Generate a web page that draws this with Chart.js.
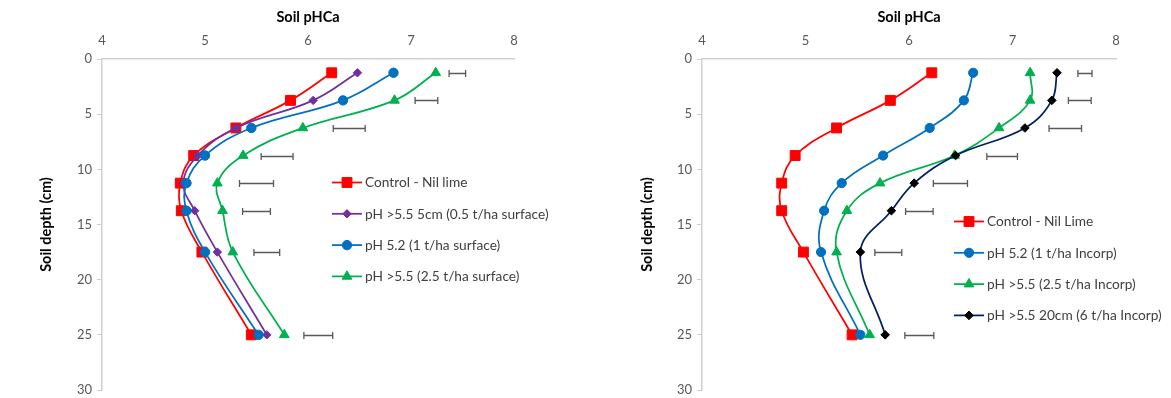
<!DOCTYPE html>
<html>
<head>
<meta charset="utf-8">
<script src="https://cdn.jsdelivr.net/npm/chart.js@4/dist/chart.umd.min.js"></script>
<style>
  html, body { margin: 0; padding: 0; background: #fff; }
  .wrap { position: relative; width: 1171px; height: 398px; overflow: hidden; }
  .panel { position: absolute; top: 0; height: 398px; }
</style>
</head>
<body>
<div class="wrap">
  <div class="panel" style="left:0;width:585px"><canvas id="surfaceChart" width="585" height="398"></canvas></div>
  <div class="panel" style="left:585px;width:586px"><canvas id="incorpChart" width="586" height="398"></canvas></div>
</div>
<script>
const depths = [1.25, 3.75, 6.25, 8.75, 11.25, 13.75, 17.5, 25];
const xTicks = [4, 5, 6, 7, 8];
const yTicks = [0, 5, 10, 15, 20, 25, 30];

// surface applied lime
const surfaceLabels = ['Control - Nil lime', 'pH >5.5 5cm (0.5 t/ha surface)', 'pH 5.2 (1 t/ha surface)', 'pH >5.5 (2.5 t/ha surface)'];
const controlSurface = [6.23, 5.83, 5.30, 4.89, 4.76, 4.77, 4.97, 5.45];
const ph55Surface5cm = [6.48, 6.05, 5.30, 4.93, 4.79, 4.90, 5.12, 5.60];
const ph52Surface = [6.83, 6.34, 5.45, 5.00, 4.82, 4.82, 5.00, 5.52];
const ph55Surface = [7.24, 6.84, 5.95, 5.37, 5.12, 5.17, 5.27, 5.77];
const lsdSurfaceCentre = [7.45, 7.15, 6.40, 5.70, 5.50, 5.50, 5.60, 6.10];
const lsdSurfaceHalf = [0.08, 0.11, 0.155, 0.155, 0.165, 0.135, 0.125, 0.14];

// incorporated lime
const incorpLabels = ['Control - Nil Lime', 'pH 5.2 (1 t/ha Incorp)', 'pH >5.5 (2.5 t/ha Incorp)', 'pH >5.5 20cm (6 t/ha Incorp)'];
const controlIncorp = [6.22, 5.82, 5.30, 4.90, 4.77, 4.77, 4.98, 5.45];
const ph52Incorp = [6.62, 6.53, 6.20, 5.75, 5.35, 5.18, 5.15, 5.53];
const ph55Incorp = [7.17, 7.17, 6.87, 6.44, 5.72, 5.40, 5.30, 5.62];
const ph55Incorp20cm = [7.43, 7.38, 7.12, 6.45, 6.05, 5.83, 5.53, 5.77];
const lsdIncorpCentre = [7.70, 7.65, 7.51, 6.90, 6.40, 6.10, 5.80, 6.10];
const lsdIncorpHalf = [0.068, 0.11, 0.157, 0.148, 0.165, 0.133, 0.13, 0.14];

const FONT = 'Lato, "Liberation Sans", sans-serif';

function toPoints(values) {
  return values.map((v, i) => ({ x: v, y: depths[i] }));
}

function series(label, values, color, style, radius, markerColor, order) {
  return {
    label,
    data: toPoints(values),
    showLine: true,
    borderColor: color,
    borderWidth: 1.75,
    tension: 0.4,
    pointStyle: style,
    pointRadius: radius,
    pointBackgroundColor: markerColor || color,
    pointBorderColor: markerColor || color,
    pointBorderWidth: 1,
    order,
  };
}

const lsdBars = {
  id: 'lsdBars',
  afterDatasetsDraw(chart, args, opts) {
    const { ctx, scales: { x, y } } = chart;
    ctx.save();
    ctx.strokeStyle = '#595959';
    ctx.lineWidth = 1.3;
    opts.centre.forEach((c, i) => {
      const py = Math.round(y.getPixelForValue(depths[i])) + 0.5;
      const x0 = x.getPixelForValue(c - opts.half[i]);
      const x1 = x.getPixelForValue(c + opts.half[i]);
      ctx.beginPath();
      ctx.moveTo(x0, py); ctx.lineTo(x1, py);
      ctx.moveTo(x0, py - 3.5); ctx.lineTo(x0, py + 3.5);
      ctx.moveTo(x1, py - 3.5); ctx.lineTo(x1, py + 3.5);
      ctx.stroke();
    });
    ctx.restore();
  },
};

const boxLegend = {
  id: 'boxLegend',
  afterDraw(chart, args, opts) {
    const { ctx } = chart;
    const sets = chart.data.datasets;
    ctx.save();
    ctx.font = '13.7px ' + FONT;
    ctx.textBaseline = 'middle';
    sets.forEach((ds, i) => {
      const y = opts.top + i * opts.gap;
      ctx.strokeStyle = ds.borderColor;
      ctx.lineWidth = 1.75;
      ctx.beginPath();
      ctx.moveTo(opts.left, y); ctx.lineTo(opts.left + 30, y);
      ctx.stroke();
      ctx.fillStyle = ds.pointBackgroundColor;
      ctx.strokeStyle = ds.pointBorderColor;
      ctx.lineWidth = 1;
      Chart.helpers.drawPoint(ctx, { pointStyle: ds.pointStyle, radius: ds.pointRadius, rotation: 0, borderWidth: 1 }, opts.left + 15, y);
      ctx.fillStyle = '#404040';
      ctx.fillText(ds.label, opts.left + 33, y + 0.5);
    });
    ctx.restore();
  },
};

function drawProfile(canvas, datasets, lsd, layout) {
  new Chart(canvas, {
    type: 'scatter',
    data: { datasets },
    options: {
      responsive: false,
      animation: false,
      devicePixelRatio: 1,
      layout: { padding: { left: 0, top: 0, right: layout.right, bottom: 4 } },
      plugins: {
        legend: { display: false },
        tooltip: { enabled: false },
        lsdBars: lsd,
        boxLegend: layout.legend,
      },
      scales: {
        x: {
          type: 'linear',
          position: 'top',
          min: 4,
          max: 8,
          afterBuildTicks: s => { s.ticks = xTicks.map(v => ({ value: v })); },
          afterFit: s => { s.height = 59; },
          grid: { display: false, drawTicks: false },
          border: { display: true, color: '#d0d0d0', width: 1.5 },
          ticks: { color: '#595959', font: { family: FONT, size: 13 }, padding: 10 },
          title: { display: true, text: 'Soil pHCa', color: '#000', font: { family: FONT, size: 14.5, weight: 'bold' }, padding: { top: 9, bottom: 0 } },
        },
        y: {
          type: 'linear',
          reverse: true,
          min: 0,
          max: 30,
          afterBuildTicks: s => { s.ticks = yTicks.map(v => ({ value: v })); },
          afterFit: s => { s.width = layout.axisWidth; s.paddingTop = 0; s.paddingBottom = 0; },
          grid: { display: true, drawOnChartArea: false, drawTicks: true, tickLength: 5, color: '#d0d0d0', lineWidth: 1 },
          border: { display: true, color: '#d0d0d0', width: 1.5 },
          ticks: { color: '#595959', font: { family: FONT, size: 13 }, padding: 5 },
          title: { display: true, text: 'Soil depth (cm)', color: '#000', font: { family: FONT, size: 14.5, weight: 'bold' }, padding: { top: layout.titleOffset, bottom: 0 } },
        },
      },
    },
    plugins: [lsdBars, boxLegend],
  });
}

window.addEventListener('DOMContentLoaded', () => {
  drawProfile(document.getElementById('surfaceChart'), [
    series(surfaceLabels[0], controlSurface, '#ff0000', 'rect', 7, null, 4),
    series(surfaceLabels[1], ph55Surface5cm, '#7030a0', 'rectRot', 4.2, null, 3),
    series(surfaceLabels[2], ph52Surface, '#0070c0', 'circle', 4.7, null, 2),
    series(surfaceLabels[3], ph55Surface, '#00b050', 'triangle', 5.6, null, 1),
  ], { centre: lsdSurfaceCentre, half: lsdSurfaceHalf }, {
    right: 71, axisWidth: 102, titleOffset: 38,
    legend: { left: 332, top: 182.5, gap: 31.3 },
  });

  drawProfile(document.getElementById('incorpChart'), [
    series(incorpLabels[0], controlIncorp, '#ff0000', 'rect', 7, null, 4),
    series(incorpLabels[1], ph52Incorp, '#0070c0', 'circle', 4.6, null, 3),
    series(incorpLabels[2], ph55Incorp, '#00b050', 'triangle', 5.6, null, 2),
    series(incorpLabels[3], ph55Incorp20cm, '#002060', 'rectRot', 4.3, '#000000', 1),
  ], { centre: lsdIncorpCentre, half: lsdIncorpHalf }, {
    right: 55, axisWidth: 117, titleOffset: 54,
    legend: { left: 369, top: 221.5, gap: 31.3 },
  });
});
</script>
</body>
</html>
